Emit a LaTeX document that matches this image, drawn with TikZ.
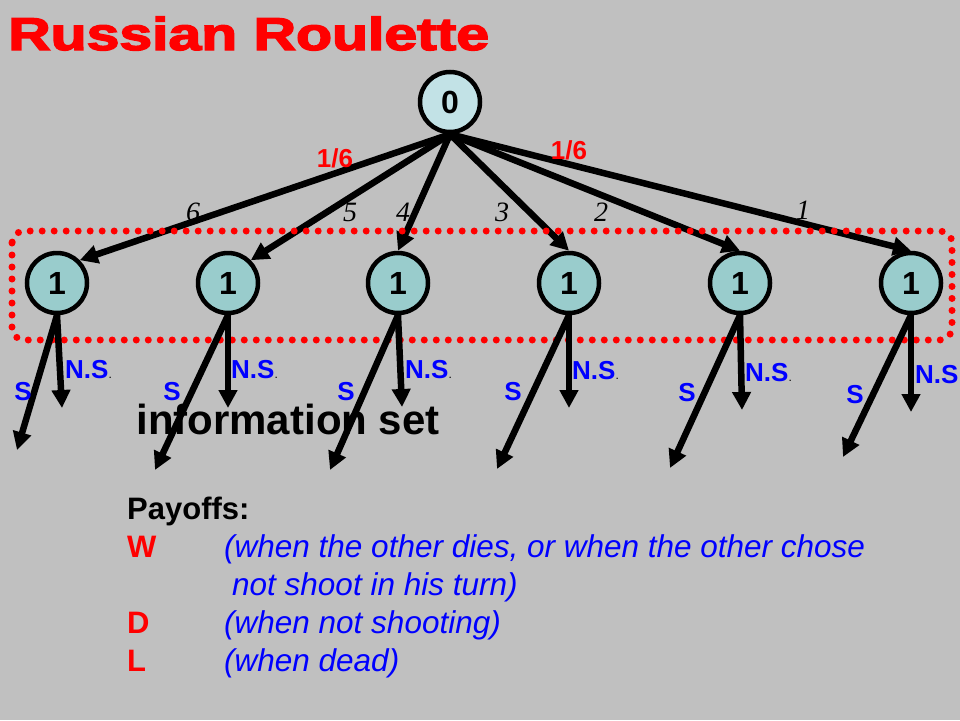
\documentclass[tikz,border=0pt]{standalone}
\usepackage{fontspec}
\setmainfont{Liberation Sans}
\newfontfamily\numfont{Liberation Serif}
\newfontfamily\titlefont[UprightFont={* Bold}, FakeBold=3]{Liberation Sans}
\usetikzlibrary{arrows.meta}
\usepackage{xcolor}
\definecolor{slidegray}{HTML}{C0C0C0}
\definecolor{rootfill}{HTML}{C2E2E6}
\definecolor{playerfill}{HTML}{99CCCC}
\newcommand{\sz}[1]{\fontsize{#1}{#1}\selectfont}

\begin{document}
\begin{tikzpicture}[x=1pt,y=-1pt,
    chance/.style={circle, draw, line width=4.5pt, fill=rootfill, minimum size=60pt, inner sep=0pt, font=\sz{32}\bfseries},
    player/.style={chance, fill=playerfill},
    move/.style={line width=6.5pt, -{Triangle[length=18pt,width=18pt]}},
    prob/.style={text=red, font=\sz{26}\bfseries},
    die/.style={font=\sz{28}\numfont\itshape},
    act/.style={text=blue, font=\sz{26}\bfseries, inner sep=0pt},
    expl/.style={anchor=base west, inner sep=0pt, text=blue, font=\sz{31.5}\itshape},
    infoset/.style={red, line width=7pt, line cap=round, dash pattern=on 0pt off 12pt, rounded corners=12pt}]
        % Slide background
        \fill[slidegray] (0,0) rectangle (960,720);
        \node[anchor=base west, inner sep=0pt, text=red, font=\sz{46}\titlefont] (title) at (8,50) {\scalebox{1.28}[1]{Russian Roulette}};
        % Chance node and player 1 nodes
        \node[chance] (root) at (450,102) {0};
        \foreach \i/\x in {1/57,2/228,3/398,4/569,5/740,6/911} {
            \node[player] (n\i) at (\x,283) {1};
        }
        \foreach \i/\a in {1/north east,2/north east,3/north,4/north,5/north,6/north} {
            \draw[move] (root.south) -- (n\i.\a);
        }
        \node[prob] (p6) at (335,158) {1/6};
        \node[prob] (p1) at (569,150) {1/6};
        \foreach \t/\x/\y in {6/193/212,5/350/212,4/403/212,3/502/212,2/601/212,1/803/210} {
            \node[die] (d\t) at (\x,\y) {\t};
        }
        % Information set of player 1
        \draw[infoset] (12,231) rectangle (952,340);
        % Shoot / not shoot moves
        \foreach \i/\sx/\sy/\nx/\ny in {1/17/450/62/408,2/155/470/228/408,3/330/470/402/407,4/497/469/569/408,5/670/468/742/410,6/843/457/911/412} {
            \coordinate (s\i) at (\sx,\sy);
            \coordinate (ns\i) at (\nx,\ny);
            \draw[move] (n\i.south) -- (s\i);
            \draw[move] (n\i.south) -- (ns\i);
        }
        \foreach \i/\x/\y in {1/65/370,2/231/370,3/405/370,4/572/371,5/745/373} {
            \node[act, anchor=west] (nsl\i) at (\x,\y) {N.S{\color{black}\sz{12}\mdseries.}};
        }
        \node[act, anchor=west] (nsl6) at (915,375) {N.S};
        \foreach \i/\x/\y in {1/23/392,2/172/392,3/346/392,4/513/392,5/687/393,6/855/395} {
            \node[act] (sl\i) at (\x,\y) {S};
        }
        \node[font=\sz{42}\bfseries] (infolbl) at (288,419) {information set};
        % Payoffs
        \node[anchor=base west, inner sep=0pt, font=\sz{31}\bfseries] (pay) at (127,519) {Payoffs:};
        \foreach \k/\y in {W/557,D/633,L/671} {
            \node[anchor=base west, inner sep=0pt, text=red, font=\sz{31}\bfseries] (key\k) at (127,\y) {\k};
        }
        \node[expl] (eW) at (224,557) {(when the other dies, or when the other chose};
        \node[expl] (eW2) at (232,595) {not shoot in his turn)};
        \node[expl] (eD) at (224,633) {(when not shooting)};
        \node[expl] (eL) at (224,671) {(when dead)};
\end{tikzpicture}
\end{document}
